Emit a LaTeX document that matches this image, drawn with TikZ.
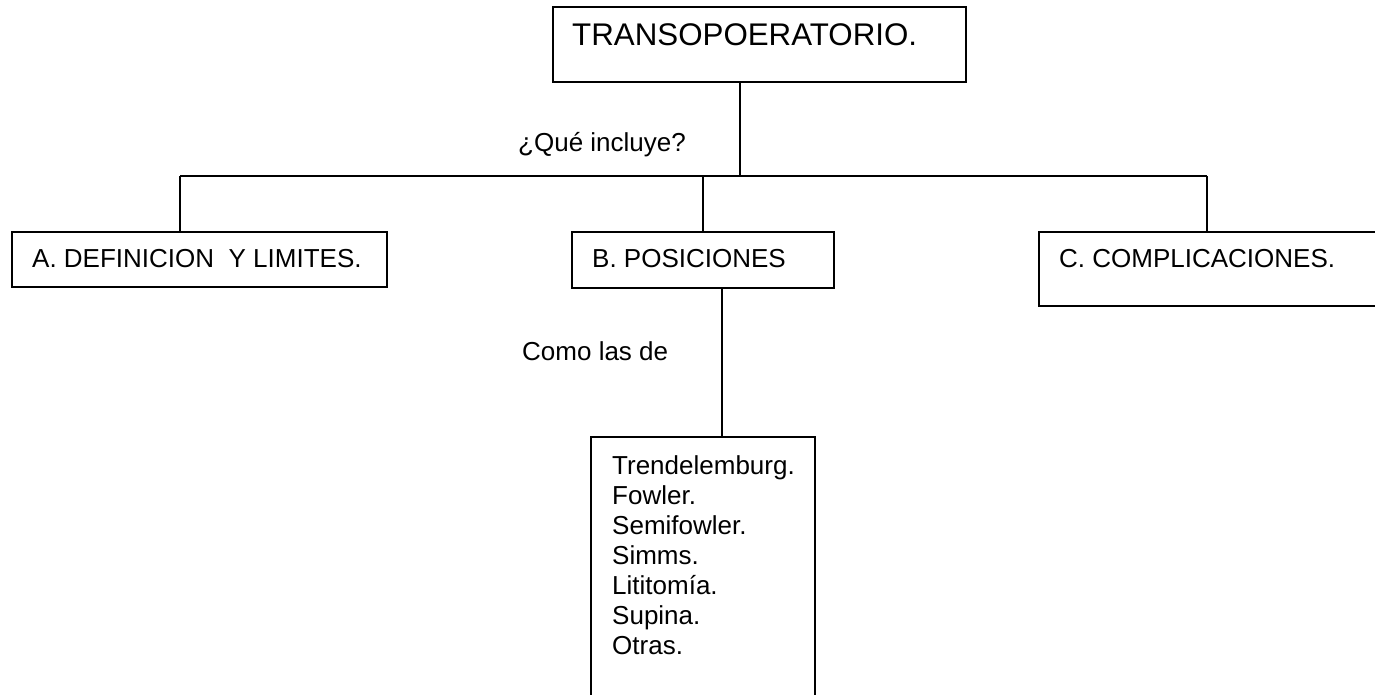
\documentclass[tikz,border=0pt]{standalone}
\usepackage{fontspec}
\setmainfont{Liberation Sans}
\begin{document}
\begin{tikzpicture}[x=1pt,y=-1pt,
  box/.style={draw, line width=1.5pt, rectangle, inner sep=0pt, outer sep=0pt, anchor=north west},
  conn/.style={draw, line width=1.5pt},
  lbl/.style={anchor=base west, inner sep=0pt, font=\fontsize{26}{30}\selectfont},
  ttl/.style={anchor=base west, inner sep=0pt, font=\fontsize{31.3}{36}\selectfont}]
\useasboundingbox (0,0) rectangle (1375,695);
\fill[white] (0,0) rectangle (1375,695);
\begin{scope}
\clip (0,0) rectangle (1375,695);
% boxes
\node[box, minimum width=413pt, minimum height=75pt] (T) at (553,7) {};
\node[box, minimum width=375pt, minimum height=55pt] (A) at (12,232) {};
\node[box, minimum width=262pt, minimum height=56pt] (B) at (572,232) {};
\node[box, minimum width=360pt, minimum height=74pt] (C) at (1039,232) {};
\node[box, minimum width=224pt, minimum height=280pt] (D) at (591,437) {};
% texts
\node[ttl] (tT) at (572,46) {TRANSOPOERATORIO.};
\node[lbl] (tA) at (32,267) {A. DEFINICION\ \ Y LIMITES.};
\node[lbl] (tB) at (592,267) {B. POSICIONES};
\node[lbl] (tC) at (1059,267) {C. COMPLICACIONES.};
\node[anchor=north west, inner sep=0pt, align=left, font=\fontsize{26}{30}\selectfont] (tD) at (612,455)
  {Trendelemburg.\\Fowler.\\Semifowler.\\Simms.\\Lititomía.\\Supina.\\Otras.};
\node[lbl] (q) at (518,152) {¿Qué incluye?};
\node[lbl] (como) at (522,360) {Como las de};
% connectors
\coordinate (j) at (740,176);
\coordinate (jA) at (180,176);
\coordinate (jB) at (703,176);
\coordinate (jC) at (1207,176);
\coordinate (bB) at (722,288);
\draw[conn] (T.south -| j) -- (j);
\draw[conn] (jA) -- (jC);
\draw[conn] (jA) -- (jA |- A.north);
\draw[conn] (jB) -- (jB |- B.north);
\draw[conn] (jC) -- (jC |- C.north);
\draw[conn] (bB |- B.south) -- (bB |- D.north);
\end{scope}
\end{tikzpicture}
\end{document}
